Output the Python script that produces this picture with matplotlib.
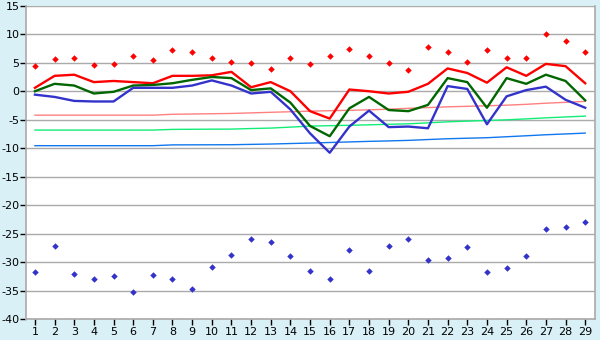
import matplotlib
matplotlib.use("Agg")
import matplotlib.pyplot as plt

# 数据
days = list(range(1, 30))

red_pts = [4.4, 5.6, 5.8, 4.6, 4.7, 6.1, 5.4, 7.2, 6.8, 5.8,
           5.1, 4.9, 3.9, 5.8, 4.7, 6.1, 7.5, 6.1, 4.9, 3.7,
           7.7, 6.8, 5.1, 7.3, 5.9, 5.8, 10.1, 8.9, 6.8]
blue_pts = [-31.8, -27.1, -32.0, -33.0, -32.5, -35.3, -32.3, -32.9, -34.8, -30.9,
            -28.7, -25.9, -26.4, -29.0, -31.6, -32.9, -27.8, -31.6, -27.1, -26.0,
            -29.7, -29.2, -27.4, -31.8, -31.1, -29.0, -24.1, -23.9, -22.9]

red_line = [0.6, 2.7, 2.9, 1.6, 1.8, 1.6, 1.4, 2.7, 2.7, 2.8,
            3.4, 0.7, 1.6, 0.0, -3.5, -4.8, 0.3, 0.0, -0.4, -0.1,
            1.3, 4.0, 3.2, 1.5, 4.2, 2.7, 4.8, 4.4, 1.4]
green_line = [0.0, 1.3, 1.0, -0.4, -0.1, 1.0, 1.1, 1.4, 2.0, 2.5,
              2.3, 0.2, 0.5, -2.0, -6.1, -7.9, -3.0, -1.0, -3.3, -3.5,
              -2.4, 2.3, 1.6, -2.9, 2.3, 1.3, 2.9, 1.8, -1.6]
blue_line = [-0.6, -1.0, -1.7, -1.8, -1.8, 0.6, 0.6, 0.6, 1.0, 1.9,
             1.0, -0.4, -0.1, -3.2, -7.4, -10.8, -6.2, -3.4, -6.3, -6.2,
             -6.5, 0.9, 0.4, -5.8, -0.9, 0.2, 0.8, -1.5, -2.9]

pink_thin = [-4.2, -4.2, -4.2, -4.2, -4.2, -4.2, -4.2, -4.05, -4.0, -3.95,
             -3.9, -3.8, -3.7, -3.6, -3.5, -3.42, -3.35, -3.27, -3.15, -3.0,
             -2.87, -2.74, -2.65, -2.55, -2.45, -2.3, -2.1, -1.95, -1.78]
green_thin = [-6.82, -6.82, -6.82, -6.82, -6.82, -6.82, -6.82, -6.7, -6.68, -6.66,
              -6.65, -6.55, -6.47, -6.3, -6.12, -6.05, -5.98, -5.9, -5.8, -5.72,
              -5.55, -5.37, -5.25, -5.13, -5.02, -4.85, -4.67, -4.52, -4.37]
blue_thin = [-9.56, -9.56, -9.56, -9.56, -9.56, -9.56, -9.56, -9.42, -9.41, -9.4,
             -9.39, -9.33, -9.27, -9.18, -9.1, -9.0, -8.9, -8.8, -8.72, -8.63,
             -8.48, -8.34, -8.25, -8.16, -7.99, -7.82, -7.64, -7.5, -7.35]

yticks = list(range(-40, 16, 5))

plt.rcParams['font.family'] = ['DejaVu Sans']
plt.rcParams['axes.unicode_minus'] = False

fig = plt.figure(figsize=(6, 3.4), dpi=100, facecolor='#d9f0f7')
ax = fig.add_axes([0.0438, 0.0615, 0.9479, 0.9215])
ax.set_facecolor('white')

# 细线（趋势）
ax.plot(days, pink_thin, color='#ff8080', lw=1.0, zorder=2)
ax.plot(days, green_thin, color='#11ee77', lw=1.0, zorder=2)
ax.plot(days, blue_thin, color='#1177ee', lw=1.0, zorder=2)

# 粗线
ax.plot(days, red_line, color='#ff0000', lw=1.7, zorder=3)
ax.plot(days, green_line, color='#006600', lw=1.7, zorder=3)
ax.plot(days, blue_line, color='#3333cc', lw=1.7, zorder=3)

# 散点
ax.plot(days, red_pts, ls='none', marker='D', ms=3.3, color='#ff0000', mec='none', zorder=4)
ax.plot(days, blue_pts, ls='none', marker='D', ms=3.3, color='#3333cc', mec='none', zorder=4)

ax.set_xlim(0.56, 29.5)
ax.set_ylim(-40, 15)
ax.set_xticks(days)
ax.set_yticks(yticks)
ax.grid(axis='y', color='#aaaaaa', lw=1.0)
ax.set_axisbelow(True)

for side in ['left', 'bottom', 'right']:
    ax.spines[side].set_color('#aaaaaa')
    ax.spines[side].set_linewidth(1.2)
ax.spines['top'].set_visible(False)

ax.tick_params(axis='both', labelsize=8, colors='black', length=4, width=1)
ax.tick_params(axis='y', pad=1)
ax.tick_params(axis='x', pad=2)

plt.savefig('out.png', dpi=100, facecolor=fig.get_facecolor())
plt.close()
